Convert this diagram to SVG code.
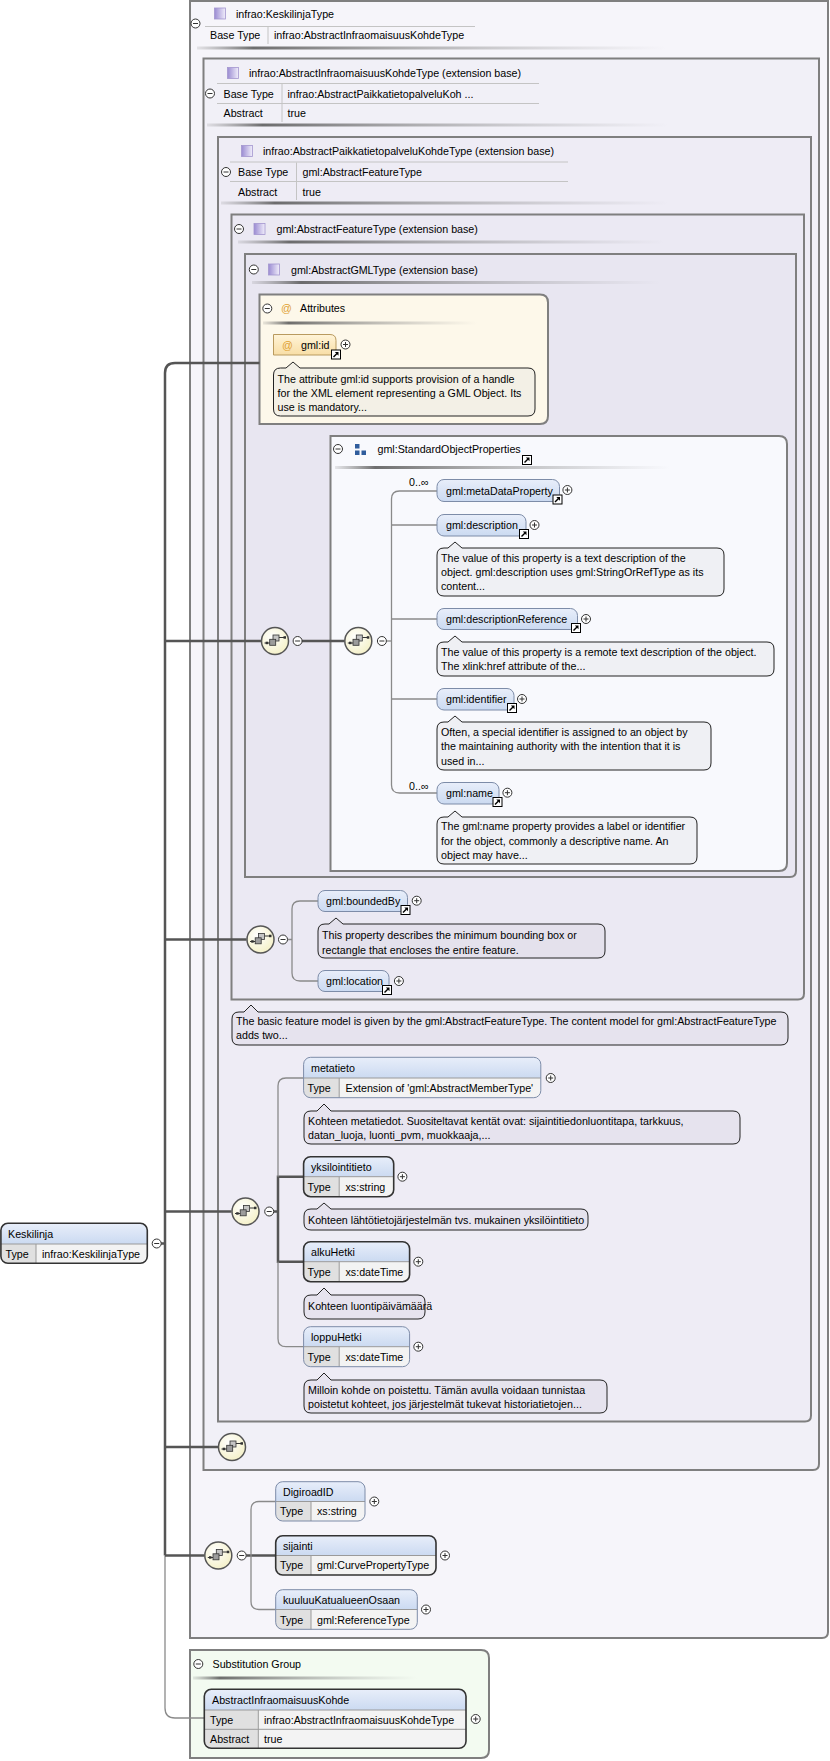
<svg xmlns="http://www.w3.org/2000/svg" width="830" height="1761" viewBox="0 0 830 1761">
<defs>
<linearGradient id="gBlue" x1="0" y1="0" x2="0" y2="1"><stop offset="0" stop-color="#e8eefa"/><stop offset="1" stop-color="#cbdaf1"/></linearGradient>
<linearGradient id="gOr" x1="0" y1="0" x2="0" y2="1"><stop offset="0" stop-color="#fff4d8"/><stop offset="1" stop-color="#f8dea6"/></linearGradient>
<radialGradient id="gSeq" cx="0.4" cy="0.35" r="0.7"><stop offset="0" stop-color="#ffffff"/><stop offset="1" stop-color="#f4f0c6"/></radialGradient>
<linearGradient id="gCt" x1="0" y1="0" x2="1" y2="0"><stop offset="0" stop-color="#9a8bd2"/><stop offset="1" stop-color="#f1eefb"/></linearGradient>
<linearGradient id="gSh" x1="0" y1="0" x2="1" y2="0"><stop offset="0" stop-color="#777" stop-opacity="0.15"/><stop offset="0.12" stop-color="#555" stop-opacity="0.85"/><stop offset="0.45" stop-color="#777" stop-opacity="0.55"/><stop offset="1" stop-color="#999" stop-opacity="0"/></linearGradient>
<g id="mn"><circle r="4.5" fill="#fff" stroke="#333" stroke-width="1"/><path d="M-2.5,0 H2.5" stroke="#333" stroke-width="1"/></g>
<g id="pl"><circle r="4.5" fill="#fff" stroke="#333" stroke-width="1"/><path d="M-2.5,0 H2.5 M0,-2.5 V2.5" stroke="#333" stroke-width="1"/></g>
<g id="lk"><rect x="0.5" y="0.5" width="9" height="9" fill="#fff" stroke="#000" stroke-width="1"/><path d="M2.5,7.5 L6,4" stroke="#000" stroke-width="1.4"/><path d="M3.8,2.5 H7.5 V6.2 Z" fill="#000"/></g>
<g id="sq"><circle r="13.5" fill="url(#gSeq)" stroke="#555" stroke-width="1.5"/><path d="M-10.5,2 H-5 M4,-3.5 H9.5" stroke="#333" stroke-width="1"/><rect x="-2" y="-6" width="6" height="6" fill="#c4c4c4" stroke="#333" stroke-width="0.8"/><rect x="-5.3" y="-1.7" width="6" height="6" fill="#9c9c9c" stroke="#333" stroke-width="0.8"/><rect x="-9.3" y="0.7" width="2.5" height="2.5" fill="#333"/><rect x="8.5" y="-4.8" width="2.5" height="2.5" fill="#333"/></g>
<g id="ct"><rect x="-5.5" y="-5.5" width="11" height="11" fill="url(#gCt)" stroke="#a396cf" stroke-width="0.8"/></g>
</defs>
<style>
.t{font-family:"Liberation Sans",Arial,sans-serif;font-size:10.7px;fill:#000}
.o{font-family:"Liberation Sans",Arial,sans-serif;font-size:10.7px;fill:#e0a030}
.box{stroke:#7f7f7f;stroke-width:2}
.hl{stroke:#c4c4c4;stroke-width:1;fill:none}
.tk{stroke:#555;stroke-width:2.5;fill:none}
.tn{stroke:#8a8a8a;stroke-width:1.3;fill:none}
.cm{stroke:#222;stroke-width:1}
.eo{stroke:#7d8ca8;stroke-width:1;fill:none}
.em{stroke:#333;stroke-width:1.6;fill:none}
.ty{fill:#e0e0e0}
.tv{fill:#f3f3f3}
.hd{fill:url(#gBlue)}
.dv{stroke:#9a9a9a;stroke-width:1;fill:none}
.sh{fill:url(#gSh)}
</style>
<rect width="830" height="1761" fill="#fff"/>

<g id="box-KeskilinjaType">
<path class="box" d="M190,1 H828 V1632 Q828,1638 822,1638 H190 Z" fill="#f6f5fa"/>
<use href="#mn" x="195.5" y="23.5"/>
<use href="#ct" x="220" y="13.5"/>
<text class="t" x="236" y="18">infrao:KeskilinjaType</text>
<path class="hl" d="M205,26.5 H475 M268,27 V44"/>
<text class="t" x="210" y="38.5">Base Type</text>
<text class="t" x="274" y="38.5">infrao:AbstractInfraomaisuusKohdeType</text>
<rect class="sh" x="197" y="46.5" width="469" height="3"/>
</g>

<g id="box-AbstractInfraomaisuusKohdeType">
<path class="box" d="M203.5,58.5 H819 V1464 Q819,1470 813,1470 H203.5 Z" fill="#f1f0f7"/>
<use href="#ct" x="233" y="73"/>
<text class="t" x="249" y="77">infrao:AbstractInfraomaisuusKohdeType (extension base)</text>
<path class="hl" d="M217,83.5 H539 M217,103.5 H539 M282,84 V122"/>
<use href="#mn" x="210" y="93.5"/>
<text class="t" x="223.5" y="97.5">Base Type</text>
<text class="t" x="287.5" y="97.5">infrao:AbstractPaikkatietopalveluKoh ...</text>
<text class="t" x="223.5" y="116.5">Abstract</text>
<text class="t" x="287.5" y="116.5">true</text>
<rect class="sh" x="207" y="123.5" width="462" height="3"/>
</g>

<g id="box-AbstractPaikkatietopalveluKohdeType">
<path class="box" d="M218,137 H811 V1415.5 Q811,1421.5 805,1421.5 H218 Z" fill="#eeecf5"/>
<use href="#ct" x="247" y="151"/>
<text class="t" x="263" y="155">infrao:AbstractPaikkatietopalveluKohdeType (extension base)</text>
<path class="hl" d="M230,162 H568 M230,181.5 H568 M296.5,162.5 V200"/>
<use href="#mn" x="226" y="172"/>
<text class="t" x="238" y="176">Base Type</text>
<text class="t" x="302.5" y="176">gml:AbstractFeatureType</text>
<text class="t" x="238" y="195.5">Abstract</text>
<text class="t" x="302.5" y="195.5">true</text>
<rect class="sh" x="221" y="201.5" width="448" height="3"/>
</g>

<g id="box-AbstractFeatureType">
<path class="box" d="M231.5,214.5 H804 V993.5 Q804,999.5 798,999.5 H231.5 Z" fill="#ebe9f3"/>
<use href="#mn" x="239" y="229"/>
<use href="#ct" x="259.5" y="229"/>
<text class="t" x="276.5" y="233">gml:AbstractFeatureType (extension base)</text>
<rect class="sh" x="238" y="240.5" width="427" height="3"/>
</g>

<g id="box-AbstractGMLType">
<path class="box" d="M245,254 H796 V871 Q796,877 790,877 H245 Z" fill="#e8e6f1"/>
<use href="#mn" x="253.8" y="269.5"/>
<use href="#ct" x="274" y="269.5"/>
<text class="t" x="291" y="273.5">gml:AbstractGMLType (extension base)</text>
<rect class="sh" x="252" y="281" width="408" height="3"/>
</g>

<g id="attributes">
<path class="box" d="M259.5,294.5 H540 Q548,294.5 548,302.5 V416 Q548,424 540,424 H259.5 Z" fill="#fdf8ea"/>
<use href="#mn" x="267.3" y="308.5"/>
<text class="o" x="286.5" y="312.3" text-anchor="middle">@</text>
<text class="t" x="300" y="312.3">Attributes</text>
<rect class="sh" x="263" y="321.5" width="214" height="3"/>
</g>

<g id="model-group-StandardObjectProperties">
<path class="box" d="M330.5,436 H779 Q787,436 787,444 V863 Q787,871 779,871 H330.5 Z" fill="#f8f9fd"/>
<use href="#mn" x="338" y="449"/>
<rect x="355" y="444" width="4.5" height="4.5" fill="#2f5c9c"/>
<rect x="355" y="450.5" width="4.5" height="4.5" fill="#2f5c9c"/>
<rect x="361.5" y="450.5" width="4.5" height="4.5" fill="#2f5c9c"/>
<text class="t" x="377.5" y="453">gml:StandardObjectProperties</text>
<use href="#lk" x="522" y="455"/>
<rect class="sh" x="335" y="466" width="335" height="3"/>
</g>

<g id="substitution-group">
<path class="box" d="M190,1650 H481 Q489,1650 489,1658 V1750 Q489,1758 481,1758 H190 Z" fill="#f3fbf1"/>
<use href="#mn" x="198.3" y="1664"/>
<text class="t" x="212.5" y="1668">Substitution Group</text>
<rect class="sh" x="193" y="1676.5" width="224" height="3"/>
</g>

<g id="connectors">
<path class="tk" d="M161,1243.5 H165"/>
<path class="tk" d="M259.5,363 H175 Q165,363 165,373 V1555.5"/>
<path class="tn" d="M165,1555.5 V1708 Q165,1718 175,1718 H204.3"/>
<path class="tk" d="M165,641 H261"/>
<path class="tk" d="M302,641 H344.5"/>
<path class="tn" d="M386.4,641 H391.5"/>
<path class="tn" d="M437,491 H399.5 Q391.5,491 391.5,499 V785 Q391.5,793 399.5,793 H437 M391.5,525 H437 M391.5,619 H437 M391.5,699 H437"/>
<path class="tk" d="M165,939.5 H246.5"/>
<path class="tn" d="M287.5,939.5 H292 M318,901 H300 Q292,901 292,909 V973 Q292,981 300,981 H318"/>
<path class="tk" d="M165,1211.5 H231.5"/>
<path class="tk" d="M273.7,1211.5 H278 M303.6,1176.7 H278 V1261.7 H303.6"/>
<path class="tn" d="M303.6,1078 H286 Q278,1078 278,1086 V1176.7 M278,1261.7 V1338.7 Q278,1346.7 286,1346.7 H303.6"/>
<path class="tk" d="M165,1447 H218"/>
<path class="tk" d="M165,1555.5 H204.3"/>
<path class="tk" d="M246.2,1555.5 H275.7"/>
<path class="tn" d="M275.7,1501.5 H259 Q251,1501.5 251,1509.5 V1601.5 Q251,1609.5 259,1609.5 H275.7"/>
</g>

<g id="attr-gml-id">
<path d="M273.5,334.5 H330 Q336,334.5 336,340.5 V355 H273.5 Z" fill="url(#gOr)" stroke="#b99a5e" stroke-width="1"/>
<text class="o" x="287.5" y="348.5" text-anchor="middle">@</text>
<text class="t" x="301" y="348.5">gml:id</text>
<use href="#pl" x="345.5" y="344.5"/>
<use href="#lk" x="331" y="349.5"/>
<path class="cm" fill="#f3f0e6" d="M280.5,368 H286 L293,362 L300,368 H528 Q535,368 535,375 V409 Q535,416 528,416 H280.5 Q273.5,416 273.5,409 V375 Q273.5,368 280.5,368 Z"/>
<text class="t" x="277.5" y="382.7">The attribute gml:id supports provision of a handle</text>
<text class="t" x="277.5" y="397">for the XML element representing a GML Object. Its</text>
<text class="t" x="277.5" y="411.2">use is mandatory...</text>
</g>

<g id="seq-1"><use href="#sq" x="275" y="641"/><use href="#mn" x="297.6" y="641"/></g>
<g id="seq-2"><use href="#sq" x="358.3" y="641"/><use href="#mn" x="381.9" y="641"/></g>
<g id="seq-3"><use href="#sq" x="260.5" y="939.5"/><use href="#mn" x="283" y="939.5"/></g>
<g id="seq-4"><use href="#sq" x="245.5" y="1211.5"/><use href="#mn" x="269.2" y="1211.5"/></g>
<g id="seq-5"><use href="#sq" x="232" y="1447"/></g>
<g id="seq-6"><use href="#sq" x="218.3" y="1555.5"/><use href="#mn" x="241.7" y="1555.5"/></g>

<g id="el-metaDataProperty">
<text class="t" x="409" y="486" font-size="10">0..∞</text>
<rect x="437" y="479.5" width="122.5" height="22" rx="7" class="hd" stroke="#7d8ca8"/>
<text class="t" x="446" y="494.5">gml:metaDataProperty</text>
<use href="#pl" x="567.4" y="490"/>
<use href="#lk" x="552.5" y="494.5"/>
</g>
<g id="el-description">
<rect x="437" y="514.5" width="89" height="21.5" rx="7" class="hd" stroke="#7d8ca8"/>
<text class="t" x="446" y="529">gml:description</text>
<use href="#pl" x="534.5" y="525"/>
<use href="#lk" x="519" y="529"/>
<path class="cm" fill="#eff0f4" d="M444,548 H448 L455,542 L462,548 H717 Q724,548 724,555 V589 Q724,596 717,596 H444 Q437,596 437,589 V555 Q437,548 444,548 Z"/>
<text class="t" x="441" y="562">The value of this property is a text description of the</text>
<text class="t" x="441" y="576.4">object. gml:description uses gml:StringOrRefType as its</text>
<text class="t" x="441" y="590.4">content...</text>
</g>
<g id="el-descriptionReference">
<rect x="437" y="608.5" width="140.5" height="21" rx="7" class="hd" stroke="#7d8ca8"/>
<text class="t" x="446" y="623">gml:descriptionReference</text>
<use href="#pl" x="586" y="619"/>
<use href="#lk" x="571" y="623"/>
<path class="cm" fill="#eff0f4" d="M444,642 H448 L455,636 L462,642 H767 Q774,642 774,649 V669 Q774,676 767,676 H444 Q437,676 437,669 V649 Q437,642 444,642 Z"/>
<text class="t" x="441" y="656">The value of this property is a remote text description of the object.</text>
<text class="t" x="441" y="670.4">The xlink:href attribute of the...</text>
</g>
<g id="el-identifier">
<rect x="437" y="688.5" width="77" height="21.5" rx="7" class="hd" stroke="#7d8ca8"/>
<text class="t" x="446" y="703">gml:identifier</text>
<use href="#pl" x="522" y="699"/>
<use href="#lk" x="507" y="703"/>
<path class="cm" fill="#eff0f4" d="M444,722 H448 L455,716 L462,722 H704 Q711,722 711,729 V763 Q711,770 704,770 H444 Q437,770 437,763 V729 Q437,722 444,722 Z"/>
<text class="t" x="441" y="736.4">Often, a special identifier is assigned to an object by</text>
<text class="t" x="441" y="750.4">the maintaining authority with the intention that it is</text>
<text class="t" x="441" y="764.7">used in...</text>
</g>
<g id="el-name">
<text class="t" x="409" y="789.5" font-size="10">0..∞</text>
<rect x="437" y="782.5" width="62" height="21.5" rx="7" class="hd" stroke="#7d8ca8"/>
<text class="t" x="446" y="797">gml:name</text>
<use href="#pl" x="507.4" y="792.7"/>
<use href="#lk" x="492.5" y="797"/>
<path class="cm" fill="#eff0f4" d="M444,817 H448 L455,811 L462,817 H690 Q697,817 697,824 V857 Q697,864 690,864 H444 Q437,864 437,857 V824 Q437,817 444,817 Z"/>
<text class="t" x="441" y="830.4">The gml:name property provides a label or identifier</text>
<text class="t" x="441" y="844.7">for the object, commonly a descriptive name. An</text>
<text class="t" x="441" y="858.7">object may have...</text>
</g>

<g id="el-boundedBy">
<rect x="318" y="890.5" width="89.5" height="21" rx="7" class="hd" stroke="#7d8ca8"/>
<text class="t" x="326" y="905">gml:boundedBy</text>
<use href="#pl" x="416.7" y="900.7"/>
<use href="#lk" x="400.5" y="905"/>
<path class="cm" fill="#e4e1ec" d="M325,924 H329 L336,918 L343,924 H598 Q605,924 605,931 V951 Q605,958 598,958 H325 Q318,958 318,951 V931 Q318,924 325,924 Z"/>
<text class="t" x="322" y="938.7">This property describes the minimum bounding box or</text>
<text class="t" x="322" y="953.7">rectangle that encloses the entire feature.</text>
</g>
<g id="el-location">
<rect x="318" y="970.5" width="71" height="21" rx="7" class="hd" stroke="#7d8ca8"/>
<text class="t" x="326" y="985">gml:location</text>
<use href="#pl" x="398.9" y="981"/>
<use href="#lk" x="382" y="985"/>
</g>

<g id="comment-AbstractFeatureType">
<path class="cm" fill="#e6e3ee" d="M239,1012 H244 L251,1005 L258,1012 H781 Q788,1012 788,1019 V1038 Q788,1045 781,1045 H239 Q232,1045 232,1038 V1019 Q232,1012 239,1012 Z"/>
<text class="t" x="236" y="1025.4">The basic feature model is given by the gml:AbstractFeatureType. The content model for gml:AbstractFeatureType</text>
<text class="t" x="236" y="1039.4">adds two...</text>
</g>

<g id="el-metatieto">
<path class="hd" d="M303.6,1078 V1064.3 Q303.6,1057.3 310.6,1057.3 H533.8 Q540.8,1057.3 540.8,1064.3 V1078 Z"/>
<path class="ty" d="M303.6,1078 H339.2 V1097.7 H310.6 Q303.6,1097.7 303.6,1090.7 Z"/>
<path class="tv" d="M339.2,1078 H540.8 V1090.7 Q540.8,1097.7 533.8,1097.7 H339.2 Z"/>
<path class="dv" d="M303.6,1078 H540.8 M339.2,1078 V1097.7"/>
<rect class="eo" x="303.6" y="1057.3" width="237.2" height="40.4" rx="7" stroke="#6e6e6e"/>
<text class="t" x="311" y="1071.5">metatieto</text>
<text class="t" x="307.5" y="1091.5">Type</text>
<text class="t" x="345.5" y="1091.5">Extension of 'gml:AbstractMemberType'</text>
<use href="#pl" x="550.7" y="1078"/>
<path class="cm" fill="#e6e3ee" d="M311,1111 H317 L324,1104 L331,1111 H733 Q740,1111 740,1118 V1137 Q740,1144 733,1144 H311 Q304,1144 304,1137 V1118 Q304,1111 311,1111 Z"/>
<text class="t" x="308" y="1124.7">Kohteen metatiedot. Suositeltavat kentät ovat: sijaintitiedonluontitapa, tarkkuus,</text>
<text class="t" x="308" y="1138.7">datan_luoja, luonti_pvm, muokkaaja,...</text>
</g>

<g id="el-yksilointitieto">
<path class="hd" d="M303.6,1176.7 V1163.7 Q303.6,1156.7 310.6,1156.7 H386.7 Q393.7,1156.7 393.7,1163.7 V1176.7 Z"/>
<path class="ty" d="M303.6,1176.7 H339.2 V1196.7 H310.6 Q303.6,1196.7 303.6,1189.7 Z"/>
<path class="tv" d="M339.2,1176.7 H393.7 V1189.7 Q393.7,1196.7 386.7,1196.7 H339.2 Z"/>
<path class="dv" d="M303.6,1176.7 H393.7 M339.2,1176.7 V1196.7"/>
<rect class="em" x="303.6" y="1156.7" width="90.1" height="40" rx="7"/>
<text class="t" x="311" y="1170.5">yksilointitieto</text>
<text class="t" x="307.5" y="1190.5">Type</text>
<text class="t" x="345.5" y="1190.5">xs:string</text>
<use href="#pl" x="402.4" y="1176.7"/>
<path class="cm" fill="#e6e3ee" d="M311,1209 H317 L324,1203 L331,1209 H581 Q588,1209 588,1216 V1223 Q588,1230 581,1230 H311 Q304,1230 304,1223 V1216 Q304,1209 311,1209 Z"/>
<text class="t" x="308" y="1223.7">Kohteen lähtötietojärjestelmän tvs. mukainen yksilöintitieto</text>
</g>

<g id="el-alkuHetki">
<path class="hd" d="M303.6,1261.7 V1248.7 Q303.6,1241.7 310.6,1241.7 H402.6 Q409.6,1241.7 409.6,1248.7 V1261.7 Z"/>
<path class="ty" d="M303.6,1261.7 H339.2 V1281.7 H310.6 Q303.6,1281.7 303.6,1274.7 Z"/>
<path class="tv" d="M339.2,1261.7 H409.6 V1274.7 Q409.6,1281.7 402.6,1281.7 H339.2 Z"/>
<path class="dv" d="M303.6,1261.7 H409.6 M339.2,1261.7 V1281.7"/>
<rect class="em" x="303.6" y="1241.7" width="106" height="40" rx="7"/>
<text class="t" x="311" y="1255.5">alkuHetki</text>
<text class="t" x="307.5" y="1275.5">Type</text>
<text class="t" x="345.5" y="1275.5">xs:dateTime</text>
<use href="#pl" x="418.3" y="1261.7"/>
<path class="cm" fill="#e6e3ee" d="M311,1295 H317 L324,1288 L331,1295 H418 Q425,1295 425,1302 V1312 Q425,1319 418,1319 H311 Q304,1319 304,1312 V1302 Q304,1295 311,1295 Z"/>
<text class="t" x="308" y="1309.5">Kohteen luontipäivämäärä</text>
</g>

<g id="el-loppuHetki">
<path class="hd" d="M303.6,1346.7 V1333.7 Q303.6,1326.7 310.6,1326.7 H402.6 Q409.6,1326.7 409.6,1333.7 V1346.7 Z"/>
<path class="ty" d="M303.6,1346.7 H339.2 V1366.7 H310.6 Q303.6,1366.7 303.6,1359.7 Z"/>
<path class="tv" d="M339.2,1346.7 H409.6 V1359.7 Q409.6,1366.7 402.6,1366.7 H339.2 Z"/>
<path class="dv" d="M303.6,1346.7 H409.6 M339.2,1346.7 V1366.7"/>
<rect class="eo" x="303.6" y="1326.7" width="106" height="40" rx="7" stroke="#6e6e6e"/>
<text class="t" x="311" y="1340.5">loppuHetki</text>
<text class="t" x="307.5" y="1360.5">Type</text>
<text class="t" x="345.5" y="1360.5">xs:dateTime</text>
<use href="#pl" x="418.3" y="1346.7"/>
<path class="cm" fill="#e6e3ee" d="M311,1380 H317 L324,1373 L331,1380 H600 Q607,1380 607,1387 V1406 Q607,1413 600,1413 H311 Q304,1413 304,1406 V1387 Q304,1380 311,1380 Z"/>
<text class="t" x="308" y="1393.7">Milloin kohde on poistettu. Tämän avulla voidaan tunnistaa</text>
<text class="t" x="308" y="1408">poistetut kohteet, jos järjestelmät tukevat historiatietojen...</text>
</g>

<g id="el-DigiroadID">
<path class="hd" d="M275.7,1501.5 V1488.7 Q275.7,1481.7 282.7,1481.7 H358 Q365,1481.7 365,1488.7 V1501.5 Z"/>
<path class="ty" d="M275.7,1501.5 H311 V1521 H282.7 Q275.7,1521 275.7,1514 Z"/>
<path class="tv" d="M311,1501.5 H365 V1514 Q365,1521 358,1521 H311 Z"/>
<path class="dv" d="M275.7,1501.5 H365 M311,1501.5 V1521"/>
<rect class="eo" x="275.7" y="1481.7" width="89.3" height="39.3" rx="7" stroke="#6e6e6e"/>
<text class="t" x="283" y="1495.5">DigiroadID</text>
<text class="t" x="280" y="1515">Type</text>
<text class="t" x="317" y="1515">xs:string</text>
<use href="#pl" x="374.3" y="1501.5"/>
</g>

<g id="el-sijainti">
<path class="hd" d="M275.7,1555.5 V1542.7 Q275.7,1535.7 282.7,1535.7 H429 Q436,1535.7 436,1542.7 V1555.5 Z"/>
<path class="ty" d="M275.7,1555.5 H311 V1575 H282.7 Q275.7,1575 275.7,1568 Z"/>
<path class="tv" d="M311,1555.5 H436 V1568 Q436,1575 429,1575 H311 Z"/>
<path class="dv" d="M275.7,1555.5 H436 M311,1555.5 V1575"/>
<rect class="em" x="275.7" y="1535.7" width="160.3" height="39.3" rx="7"/>
<text class="t" x="283" y="1549.5">sijainti</text>
<text class="t" x="280" y="1569">Type</text>
<text class="t" x="317" y="1569">gml:CurvePropertyType</text>
<use href="#pl" x="445" y="1555.5"/>
</g>

<g id="el-kuuluuKatualueenOsaan">
<path class="hd" d="M275.7,1609.5 V1596.7 Q275.7,1589.7 282.7,1589.7 H410.3 Q417.3,1589.7 417.3,1596.7 V1609.5 Z"/>
<path class="ty" d="M275.7,1609.5 H311 V1629.3 H282.7 Q275.7,1629.3 275.7,1622.3 Z"/>
<path class="tv" d="M311,1609.5 H417.3 V1622.3 Q417.3,1629.3 410.3,1629.3 H311 Z"/>
<path class="dv" d="M275.7,1609.5 H417.3 M311,1609.5 V1629.3"/>
<rect class="eo" x="275.7" y="1589.7" width="141.6" height="39.6" rx="7" stroke="#6e6e6e"/>
<text class="t" x="283" y="1603.5">kuuluuKatualueenOsaan</text>
<text class="t" x="280" y="1623.5">Type</text>
<text class="t" x="317" y="1623.5">gml:ReferenceType</text>
<use href="#pl" x="426" y="1609.5"/>
</g>

<g id="el-Keskilinja">
<path class="hd" d="M0.7,1244 V1230.3 Q0.7,1223.3 7.7,1223.3 H140.3 Q147.3,1223.3 147.3,1230.3 V1244 Z"/>
<path class="ty" d="M0.7,1244 H36 V1263.3 H7.7 Q0.7,1263.3 0.7,1256.3 Z"/>
<path class="tv" d="M36,1244 H147.3 V1256.3 Q147.3,1263.3 140.3,1263.3 H36 Z"/>
<path class="dv" d="M0.7,1244 H147.3 M36,1244 V1263.3"/>
<rect class="em" x="0.9" y="1223.3" width="146.4" height="40" rx="7"/>
<text class="t" x="8" y="1237.8">Keskilinja</text>
<text class="t" x="5.5" y="1257.5">Type</text>
<text class="t" x="42" y="1257.5">infrao:KeskilinjaType</text>
<use href="#mn" x="156.7" y="1243.5"/>
</g>

<g id="el-AbstractInfraomaisuusKohde">
<path class="hd" d="M204.3,1710 V1696.3 Q204.3,1689.3 211.3,1689.3 H459 Q466,1689.3 466,1696.3 V1710 Z"/>
<path class="ty" d="M204.3,1710 H258.3 V1748.3 H211.3 Q204.3,1748.3 204.3,1741.3 Z"/>
<path class="tv" d="M258.3,1710 H466 V1741.3 Q466,1748.3 459,1748.3 H258.3 Z"/>
<path class="dv" d="M204.3,1710 H466 M204.3,1729.3 H466 M258.3,1710 V1748.3"/>
<rect class="em" x="204.3" y="1689.3" width="261.7" height="59" rx="7"/>
<text class="t" x="212" y="1703.5">AbstractInfraomaisuusKohde</text>
<text class="t" x="210" y="1723.5">Type</text>
<text class="t" x="264" y="1723.5">infrao:AbstractInfraomaisuusKohdeType</text>
<text class="t" x="210" y="1742.8">Abstract</text>
<text class="t" x="264" y="1742.8">true</text>
<use href="#pl" x="475.7" y="1719"/>
</g>
</svg>
